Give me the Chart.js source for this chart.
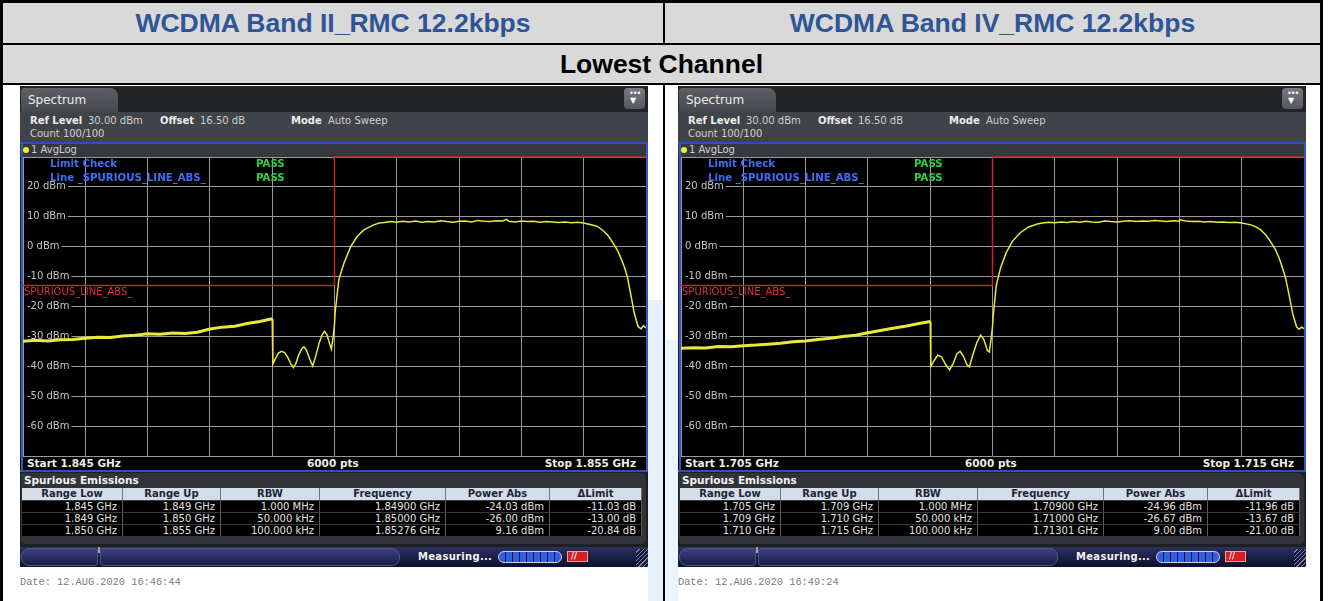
<!DOCTYPE html>
<html><head><meta charset="utf-8">
<script src="https://cdn.jsdelivr.net/npm/chart.js@4.4.1/dist/chart.umd.min.js"></script>
<style>
*{box-sizing:border-box}
body{margin:0;width:1328px;height:601px;overflow:hidden;background:#fff;position:relative;font-family:"DejaVu Sans",sans-serif}
.a{position:absolute;white-space:nowrap}
.hdr{position:absolute;background:#d9d9d9;display:flex;align-items:center;justify-content:center;font-family:"Liberation Sans",Arial,sans-serif;font-weight:bold;font-size:26.5px}
.bl{position:absolute;background:#000}
.win{position:absolute;top:86px;width:628px;height:481px;background:#1d1f22;overflow:hidden}
.win div{position:absolute;white-space:nowrap}
.t{font-size:10px;line-height:12px;color:#d0d0d0}
.b{font-weight:bold;color:#ececec}
canvas{position:absolute}
</style></head><body>
<script>
// ================= DATA =================
const titles = ['WCDMA Band II_RMC 12.2kbps', 'WCDMA Band IV_RMC 12.2kbps'];
const channelLabel = 'Lowest Channel';
const yTickValues = [30, 20, 10, 0, -10, -20, -30, -40, -50, -60, -70];
const yTickLabels = ['', '20 dBm', '10 dBm', '0 dBm', '-10 dBm', '-20 dBm', '-30 dBm', '-40 dBm', '-50 dBm', '-60 dBm', ''];
const limitName = 'SPURIOUS_LINE_ABS_';
const tableHeaders = ['Range Low', 'Range Up', 'RBW', 'Frequency', 'Power Abs', '\u0394Limit'];

// ---- Band II ----
const bandII_xTicks = [1.845, 1.846, 1.847, 1.848, 1.849, 1.850, 1.851, 1.852, 1.853, 1.854, 1.855];
const bandII_freq = [
  1.8450,1.8452,1.8454,1.8456,1.8458,1.8460,1.8462,1.8464,1.8466,1.8468,1.8470,1.8472,1.8474,1.8476,1.8478,1.8480,1.8482,1.8484,1.8486,1.8488,1.8490,
  1.84901,1.84905,1.84910,1.84915,1.84920,1.84925,1.84930,1.84934,1.84938,1.84943,1.84948,1.84951,1.84955,1.84960,1.84965,1.84970,1.84975,1.84980,1.84984,1.84988,1.84993,1.84995,1.84998,1.85000,
  1.85001,1.85007,1.85015,1.85026,1.85036,1.85047,1.85063,1.85072,
  1.8508,1.8509,1.8510,1.8511,1.8512,1.8513,1.8514,1.8515,1.8516,1.8517,1.8518,1.8519,1.8520,1.8521,1.8522,1.8523,1.8524,1.8525,1.8526,1.8527,1.85276,1.8528,1.8529,1.8530,1.8531,1.8532,1.8533,1.8534,1.8535,1.8536,1.8537,1.8538,1.8539,1.8540,
  1.85415,1.85422,1.8543,1.85438,1.85446,1.85454,1.8546,1.85465,1.8547,1.85473,1.85477,1.85481,1.85487,1.85492,1.85496,1.8550
];
const bandII_level = [
  -31.6,-31.3,-31.5,-31.1,-31.0,-30.6,-30.3,-30.4,-29.9,-29.6,-29.1,-29.3,-28.9,-29.0,-28.6,-27.5,-26.9,-26.6,-25.7,-25.0,-24.1,
  -39.3,-37.5,-35.6,-35.0,-35.4,-37.0,-39.2,-40.4,-39.0,-36.0,-34.0,-33.5,-34.6,-37.5,-39.9,-36.5,-32.5,-29.5,-28.3,-29.5,-33.0,-34.3,-30.0,-26.0,
  -22.0,-11.0,-5.6,0.0,3.3,5.6,7.3,7.9,
  8.1,8.4,8.2,8.5,8.3,8.6,8.2,8.4,8.3,8.7,8.4,8.2,8.5,8.6,8.3,8.8,8.5,8.4,8.7,8.6,9.16,8.5,8.3,8.6,8.4,8.5,8.2,8.4,8.3,8.1,8.3,8.0,8.2,7.9,
  7.2,6.8,5.6,4.0,1.6,-1.1,-4.0,-6.6,-10.0,-13.2,-17.5,-22.1,-26.6,-27.5,-26.4,-27.2
];
const bandII_limitFreq = [1.845, 1.850, 1.850, 1.855];
const bandII_limitLevel = [-13, -13, 30, 30];
const bandII_rangeLow = ['1.845 GHz', '1.849 GHz', '1.850 GHz'];
const bandII_rangeUp = ['1.849 GHz', '1.850 GHz', '1.855 GHz'];
const bandII_rbw = ['1.000 MHz', '50.000 kHz', '100.000 kHz'];
const bandII_peakFreq = ['1.84900 GHz', '1.85000 GHz', '1.85276 GHz'];
const bandII_powerAbs = ['-24.03 dBm', '-26.00 dBm', '9.16 dBm'];
const bandII_deltaLimit = ['-11.03 dB', '-13.00 dB', '-20.84 dB'];
const bandII_start = 'Start 1.845 GHz', bandII_stop = 'Stop 1.855 GHz';
const bandII_date = 'Date: 12.AUG.2020  16:46:44';

// ---- Band IV ----
const bandIV_xTicks = [1.705, 1.706, 1.707, 1.708, 1.709, 1.710, 1.711, 1.712, 1.713, 1.714, 1.715];
const bandIV_freq = [
  1.7050,1.7052,1.7054,1.7056,1.7058,1.7060,1.7062,1.7064,1.7066,1.7068,1.7070,1.7072,1.7074,1.7076,1.7078,1.7080,1.7082,1.7084,1.7086,1.7088,1.7090,
  1.70901,1.70905,1.70912,1.70918,1.70925,1.70931,1.70937,1.70943,1.70948,1.70953,1.70959,1.70963,1.70968,1.70975,1.70981,1.70986,1.70992,1.70995,1.70998,1.71000,
  1.71001,1.71006,1.71013,1.71022,1.71032,1.71044,1.71058,1.71072,
  1.7108,1.7109,1.7110,1.7111,1.7112,1.7113,1.7114,1.7115,1.7116,1.7117,1.7118,1.7119,1.7120,1.7121,1.7122,1.7123,1.7124,1.7125,1.7126,1.7127,1.7128,1.7129,1.7130,1.71301,1.7131,1.7132,1.7133,1.7134,1.7135,1.7136,1.7137,1.7138,1.7139,1.7140,
  1.71415,1.71422,1.7143,1.71438,1.71446,1.71454,1.7146,1.71465,1.7147,1.71474,1.71478,1.71482,1.71488,1.71492,1.71496,1.7150
];
const bandIV_level = [
  -34.0,-33.8,-33.9,-33.4,-33.5,-33.1,-32.9,-32.6,-32.3,-31.8,-31.5,-31.0,-30.6,-30.0,-29.6,-28.8,-28.0,-27.3,-26.6,-25.8,-25.0,
  -40.0,-38.5,-36.3,-36.8,-39.5,-41.2,-39.0,-35.8,-35.0,-36.5,-39.5,-40.2,-36.5,-32.0,-29.6,-31.0,-34.8,-35.2,-30.5,-26.7,
  -23.5,-13.0,-7.0,-2.0,1.8,4.6,6.6,7.6,
  7.9,8.2,8.0,8.3,8.1,8.4,8.2,8.5,8.3,8.2,8.6,8.4,8.3,8.5,8.7,8.4,8.6,8.5,8.8,8.6,8.4,8.7,8.5,9.00,8.6,8.4,8.5,8.3,8.4,8.2,8.3,8.1,8.2,7.9,
  7.3,6.7,5.7,4.1,1.8,-0.9,-3.8,-6.8,-10.2,-14.0,-18.2,-22.5,-26.8,-27.6,-26.9,-27.4
];
const bandIV_limitFreq = [1.705, 1.710, 1.710, 1.715];
const bandIV_limitLevel = [-13, -13, 30, 30];
const bandIV_rangeLow = ['1.705 GHz', '1.709 GHz', '1.710 GHz'];
const bandIV_rangeUp = ['1.709 GHz', '1.710 GHz', '1.715 GHz'];
const bandIV_rbw = ['1.000 MHz', '50.000 kHz', '100.000 kHz'];
const bandIV_peakFreq = ['1.70900 GHz', '1.71000 GHz', '1.71301 GHz'];
const bandIV_powerAbs = ['-24.96 dBm', '-26.67 dBm', '9.00 dBm'];
const bandIV_deltaLimit = ['-11.96 dB', '-13.67 dB', '-21.00 dB'];
const bandIV_start = 'Start 1.705 GHz', bandIV_stop = 'Stop 1.715 GHz';
const bandIV_date = 'Date: 12.AUG.2020  16:49:24';
</script>

<!-- table frame -->
<div class="hdr" style="left:3px;top:3px;width:660px;height:40px;color:#2f5597" id="t1"></div>
<div class="hdr" style="left:665px;top:3px;width:655px;height:40px;color:#2f5597" id="t2"></div>
<div class="hdr" style="left:3px;top:45px;width:1317px;height:38px;color:#000" id="t3"></div>
<div class="bl" style="left:0;top:0;width:1323px;height:3px"></div>
<div class="bl" style="left:0;top:0;width:3px;height:601px"></div>
<div class="bl" style="left:1320px;top:0;width:3px;height:601px"></div>
<div class="bl" style="left:0;top:43px;width:1323px;height:2px"></div>
<div class="bl" style="left:0;top:83px;width:1323px;height:2px"></div>
<div class="bl" style="left:663px;top:0;width:2px;height:45px"></div>
<div class="bl" style="left:663px;top:85px;width:2px;height:516px"></div>
<div class="a" style="left:648px;top:300px;width:15px;height:301px;background:#e6f1fc"></div>
<div class="a" style="left:665px;top:340px;width:13px;height:261px;background:#eaf4fd"></div>

<script>
document.getElementById('t1').textContent = titles[0];
document.getElementById('t2').textContent = titles[1];
document.getElementById('t3').textContent = channelLabel;

const colEdges = [2, 103, 201, 300, 426, 530, 622];

function txt(x, y, s, cls, extra) {
  return `<div class="t ${cls||''}" style="left:${x}px;top:${y - 6}px;${extra||''}">${s}</div>`;
}

function buildWindow(ox, P) {
  const w = document.createElement('div');
  w.className = 'win';
  w.style.left = ox + 'px';
  let h = '';
  h += `<div style="left:0;top:0;width:628px;height:26px;background:#222428"></div>`;
  h += `<div style="left:1px;top:2px;width:97px;height:24px;background:linear-gradient(#5d6065,#45484c);border-radius:3px 8px 0 0"></div>`;
  h += `<div style="left:8px;top:7px;font-size:12px;line-height:14px;color:#ececec">Spectrum</div>`;
  h += `<div style="left:604px;top:2px;width:21px;height:21px;background:linear-gradient(#777b81,#55585d);border-radius:4px"></div>`;
  h += `<div style="left:609px;top:4px;font-size:8px;line-height:8px;color:#fff;letter-spacing:-1px">\u2022\u2022\u2022</div>`;
  h += `<div style="left:610px;top:11px;font-size:8px;line-height:8px;color:#fff">\u25BC</div>`;
  h += `<div style="left:0;top:26px;width:628px;height:30px;background:#404347"></div>`;
  h += txt(10, 35, 'Ref Level', 'b');
  h += txt(68, 35, '30.00 dBm');
  h += txt(140, 35, 'Offset', 'b');
  h += txt(180, 35, '16.50 dB');
  h += txt(271, 35, 'Mode', 'b');
  h += txt(308, 35, 'Auto Sweep');
  h += txt(10, 48, 'Count 100/100');
  h += `<div style="left:0;top:56px;width:628px;height:2px;background:#2c4fc4"></div>`;
  h += `<div style="left:0;top:58px;width:628px;height:13px;background:#35383c"></div>`;
  h += `<div style="left:3px;top:61px;width:6px;height:6px;border-radius:3px;background:#f2f020"></div>`;
  h += txt(11, 64, '1 AvgLog');
  h += `<div style="left:3px;top:71px;width:623px;height:300px;background:#000"></div>`;
  h += `<div style="left:0;top:371px;width:628px;height:14px;background:#000"></div>`;
  h += txt(7, 377, P.start, 'b', 'font-size:10.5px');
  h += txt(287, 377, '6000 pts', 'b', 'font-size:10.5px');
  h += txt(0, 377, P.stop, 'b', 'font-size:10.5px;left:auto;right:12px');
  h += `<div style="left:0;top:384px;width:628px;height:2px;background:#2c4fc4"></div>`;
  h += `<div style="left:0;top:386px;width:628px;height:75px;background:#1d1f22"></div>`;
  h += `<div style="left:1px;top:387px;width:625px;height:71px;background:#303337;border-radius:0 6px 4px 4px"></div>`;
  h += txt(4, 394, 'Spurious Emissions', 'b', 'font-size:10.5px;color:#f2f2f2');
  for (let c = 0; c < 6; c++) {
    const l = colEdges[c], r = colEdges[c + 1];
    h += `<div style="left:${l}px;top:402px;width:${r - l}px;height:12px;background:#d4dde8;border-right:1px solid #6b7480;font-size:10px;line-height:12px;font-weight:bold;color:#1b2636;text-align:center">${tableHeaders[c]}</div>`;
  }
  const cols = [P.rangeLow, P.rangeUp, P.rbw, P.peakFreq, P.powerAbs, P.deltaLimit];
  for (let r = 0; r < 3; r++) {
    for (let c = 0; c < 6; c++) {
      const l = colEdges[c], rr = colEdges[c + 1];
      h += `<div style="left:${l}px;top:${414 + r * 12}px;width:${rr - l}px;height:12px;background:#000;border-right:1px solid #5a5a5a;border-top:1px solid #3a3a3a;font-size:10px;line-height:11px;color:#e2e2e2;text-align:right;padding-right:5px">${cols[c][r]}</div>`;
    }
  }
  h += `<div style="left:0;top:461px;width:628px;height:20px;background:linear-gradient(#2c3060,#0d0f2a)"></div>`;
  h += `<div style="left:1px;top:462px;width:77px;height:18px;background:linear-gradient(#3c4280,#181b48);border-radius:8px 3px 3px 8px;border:1px solid #50557e"></div>`;
  h += `<div style="left:80px;top:462px;width:300px;height:18px;background:linear-gradient(#3c4280,#181b48);border-radius:3px 8px 8px 3px;border:1px solid #50557e"></div>`;
  h += `<div style="left:78px;top:461px;width:2px;height:6px;background:#9aa0b8"></div>`;
  h += `<div style="left:398px;top:465px;font-size:10px;line-height:12px;font-weight:bold;color:#f2f2f2;letter-spacing:0.3px">Measuring...</div>`;
  h += `<div style="left:478px;top:465px;width:64px;height:12px;border-radius:6px;border:1px solid #c8d0e0;background:repeating-linear-gradient(90deg,#2f5fe0 0 6px,#0b1230 6px 7px)"></div>`;
  h += `<div style="left:547px;top:465px;width:21px;height:11px;background:#d42020;border:1px solid #f0a0a0"></div>`;
  h += `<div style="left:551px;top:466px;font-size:8px;line-height:9px;color:#fff;font-weight:bold">//</div>`;
  h += `<div style="left:616px;top:463px;width:12px;height:18px;background:repeating-linear-gradient(135deg,#14173a 0 2px,#8088a8 2px 3px)"></div>`;
  w.innerHTML = h;
  document.body.appendChild(w);

  const d = document.createElement('div');
  d.className = 'a';
  d.style.cssText = `left:${ox}px;top:575px;font-family:'Liberation Mono',monospace;font-size:10.3px;line-height:14px;color:#7c7c7c`;
  d.textContent = P.date;
  document.body.appendChild(d);
}

const limitLabelPlugin = {
  id: 'limitLabel',
  afterDatasetsDraw(chart, args, opts) {
    const {ctx, scales} = chart;
    const y = scales.y.getPixelForValue(opts.level);
    ctx.save();
    ctx.fillStyle = '#d83434';
    ctx.font = '10px "DejaVu Sans"';
    ctx.textBaseline = 'top';
    ctx.fillText(limitName, scales.x.left + 1, y + 2);
    ctx.restore();
  }
};

function zeroFit(s, horiz) {
  if (horiz) s.height = 0; else s.width = 0;
  s.paddingTop = 0; s.paddingBottom = 0; s.paddingLeft = 0; s.paddingRight = 0;
}

function buildChart(ox, P) {
  const cv = document.createElement('canvas');
  cv.width = 625; cv.height = 302;
  cv.style.left = (ox + 2) + 'px';
  cv.style.top = '156px';
  cv.style.width = '625px'; cv.style.height = '302px';
  document.body.appendChild(cv);
  const xt = P.xTicks;
  new Chart(cv, {
    type: 'line',
    data: {
      datasets: [
        {
          data: P.freq.map((f, i) => ({x: f, y: P.level[i]})),
          borderColor: '#e8e83e', borderWidth: 1.6, pointRadius: 0, tension: 0,
          segment: { borderWidth: c => (c.p1.parsed.x <= P.splitFreq ? 3 : 1.5) }
        },
        {
          data: P.limF.map((f, i) => ({x: f, y: P.limL[i]})),
          borderColor: '#c4282c', borderWidth: 1.5, pointRadius: 0, tension: 0, clip: 4
        }
      ]
    },
    options: {
      animation: false, responsive: false, maintainAspectRatio: false, devicePixelRatio: 1,
      layout: { padding: {left: 1, right: 1, top: 1, bottom: 2} },
      plugins: { legend: {display: false}, tooltip: {enabled: false}, limitLabel: {level: P.limL[0]} },
      scales: {
        x: {
          type: 'linear', min: xt[0], max: xt[xt.length - 1],
          afterBuildTicks: s => { s.ticks = xt.map(v => ({value: v})); },
          afterFit: s => zeroFit(s, true),
          ticks: {display: false},
          grid: {color: '#9a9a9a', lineWidth: 1, drawTicks: false},
          border: {display: false}
        },
        y: {
          type: 'linear', min: -70, max: 30,
          afterBuildTicks: s => { s.ticks = yTickValues.map(v => ({value: v})); },
          afterFit: s => zeroFit(s, false),
          ticks: {
            mirror: true, padding: 4, color: '#c4c4c4',
            font: {family: 'DejaVu Sans', size: 10},
            callback: v => yTickLabels[yTickValues.indexOf(v)],
            showLabelBackdrop: c => yTickLabels[yTickValues.indexOf(c.tick.value)] !== '',
            backdropColor: '#000',
            backdropPadding: {left: 3, right: 2, top: 0, bottom: 0}
          },
          grid: {color: '#9a9a9a', lineWidth: 1, drawTicks: false},
          border: {display: false}
        }
      }
    },
    plugins: [limitLabelPlugin]
  });

  let h = '';
  h += `<div class="a" style="left:${ox + 1}px;top:142px;width:2px;height:329px;background:#3156c8"></div>`;
  h += `<div class="a" style="left:${ox + 626}px;top:142px;width:2px;height:329px;background:#3156c8"></div>`;
  const blue = 'font-size:10.2px;line-height:12px;font-weight:bold;color:#3f6ef2';
  const green = 'font-size:10.2px;line-height:12px;font-weight:bold;color:#2fd048';
  h += `<div class="a" style="left:${ox + 30}px;top:158px;${blue}">Limit Check</div>`;
  h += `<div class="a" style="left:${ox + 236}px;top:158px;${green}">PASS</div>`;
  h += `<div class="a" style="left:${ox + 30}px;top:172px;${blue}">Line _${limitName}</div>`;
  h += `<div class="a" style="left:${ox + 236}px;top:172px;${green}">PASS</div>`;
  const o = document.createElement('div');
  o.innerHTML = h;
  document.body.appendChild(o);
}

const panels = [
  { ox: 20, xTicks: bandII_xTicks, freq: bandII_freq, level: bandII_level, limF: bandII_limitFreq, limL: bandII_limitLevel, splitFreq: 1.8490,
    rangeLow: bandII_rangeLow, rangeUp: bandII_rangeUp, rbw: bandII_rbw, peakFreq: bandII_peakFreq, powerAbs: bandII_powerAbs, deltaLimit: bandII_deltaLimit,
    start: bandII_start, stop: bandII_stop, date: bandII_date },
  { ox: 678, xTicks: bandIV_xTicks, freq: bandIV_freq, level: bandIV_level, limF: bandIV_limitFreq, limL: bandIV_limitLevel, splitFreq: 1.7090,
    rangeLow: bandIV_rangeLow, rangeUp: bandIV_rangeUp, rbw: bandIV_rbw, peakFreq: bandIV_peakFreq, powerAbs: bandIV_powerAbs, deltaLimit: bandIV_deltaLimit,
    start: bandIV_start, stop: bandIV_stop, date: bandIV_date }
];
panels.forEach(P => buildWindow(P.ox, P));
panels.forEach(P => buildChart(P.ox, P));
</script>
</body></html>
